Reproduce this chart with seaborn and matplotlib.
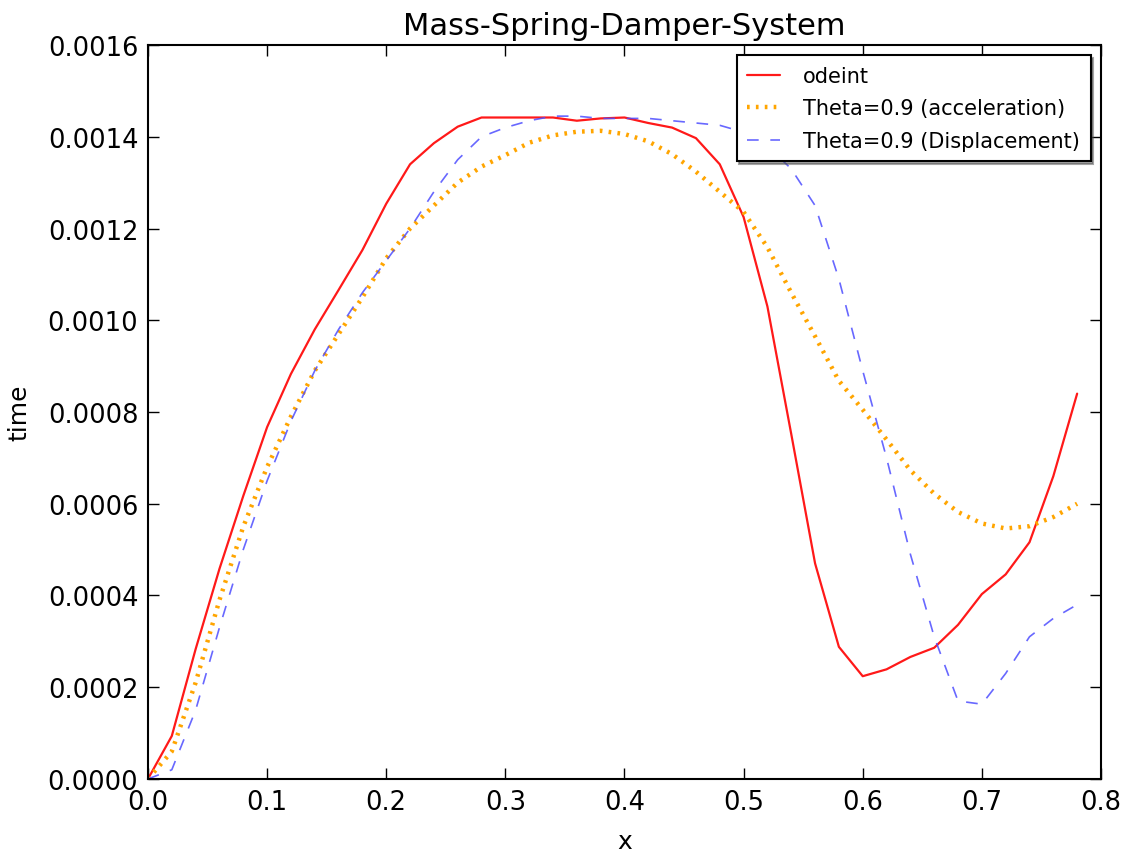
import numpy as np
import pandas as pd
import seaborn as sns
import matplotlib.pyplot as plt

# x grid (step 0.02) and the three series
x = [0.00, 0.02, 0.04, 0.06, 0.08, 0.10, 0.12, 0.14, 0.16, 0.18,
     0.20, 0.22, 0.24, 0.26, 0.28, 0.30, 0.32, 0.34, 0.36, 0.38,
     0.40, 0.42, 0.44, 0.46, 0.48, 0.50, 0.52, 0.54, 0.56, 0.58,
     0.60, 0.62, 0.64, 0.66, 0.68, 0.70, 0.72, 0.74, 0.76, 0.78]

odeint = [0.0, 0.0000937, 0.000283, 0.000458, 0.000617, 0.000767, 0.000883, 0.00098, 0.001066, 0.001153,
          0.001254, 0.00134, 0.001386, 0.001422, 0.001442, 0.001442, 0.001442, 0.001442, 0.001435, 0.00144,
          0.001442, 0.00143, 0.00142, 0.001397, 0.00134, 0.001225, 0.00103, 0.000752, 0.00047, 0.000288,
          0.000224, 0.000239, 0.000266, 0.000286, 0.000336, 0.000403, 0.000446, 0.000516, 0.00066, 0.00084]

theta_acc = [0.0, 0.00006, 0.00021, 0.00039, 0.00055, 0.00068, 0.00079, 0.00089, 0.00097, 0.00105,
             0.001135, 0.0012, 0.00125, 0.0013, 0.001335, 0.00136, 0.001387, 0.001403, 0.001411, 0.001413,
             0.001406, 0.00139, 0.001362, 0.001324, 0.00128, 0.001236, 0.001159, 0.00106, 0.000965, 0.000868,
             0.000805, 0.00074, 0.000673, 0.000622, 0.000582, 0.000557, 0.000546, 0.000551, 0.000571, 0.0006]

theta_disp = [0.0, 0.00002, 0.00015, 0.00033, 0.0005, 0.00065, 0.00078, 0.00089, 0.00098, 0.00106,
              0.00113, 0.0012, 0.00128, 0.00135, 0.0014, 0.00142, 0.001435, 0.001445, 0.001445, 0.00144,
              0.00144, 0.00144, 0.001435, 0.00143, 0.001425, 0.00141, 0.00138, 0.00133, 0.00125, 0.00109,
              0.00089, 0.0007, 0.00049, 0.00031, 0.00017, 0.000163, 0.00023, 0.00031, 0.00035, 0.00038]

x_ticks = [0.0, 0.1, 0.2, 0.3, 0.4, 0.5, 0.6, 0.7, 0.8]
y_ticks = [0.0, 0.0002, 0.0004, 0.0006, 0.0008, 0.0010, 0.0012, 0.0014, 0.0016]

sns.set_style("ticks", {"xtick.direction": "in", "ytick.direction": "in"})
plt.rcParams['font.family'] = ['DejaVu Sans']
plt.rcParams.update({"text.color": "black", "axes.labelcolor": "black",
                     "xtick.color": "black", "ytick.color": "black"})

fig = plt.figure(figsize=(11.27, 8.54), dpi=100)
ax = fig.add_axes([0.1313, 0.0867, 0.9769 - 0.1313, 0.9461 - 0.0867])

sns.lineplot(x=x, y=odeint, ax=ax, color="red", alpha=0.9, linewidth=1.6,
             label="odeint")
sns.lineplot(x=x, y=theta_acc, ax=ax, color="orange", linewidth=3.2,
             linestyle=(0, (0.6, 1.4)), label="Theta=0.9 (acceleration)")
sns.lineplot(x=x, y=theta_disp, ax=ax, color="#4d4dff", alpha=0.85, linewidth=1.2,
             linestyle=(0, (7, 7)), label="Theta=0.9 (Displacement)")

ax.set_xlim(0, 0.8)
ax.set_ylim(0, 0.0016)
ax.set_xticks(x_ticks)
ax.set_xticklabels([f"{v:.1f}" for v in x_ticks])
ax.set_yticks(y_ticks)
ax.set_yticklabels([f"{v:.4f}" for v in y_ticks])
ax.tick_params(axis="both", which="both", top=True, right=True, length=8, width=1,
               labelsize=18.5, pad=7)
for s in ax.spines.values():
    s.set_linewidth(1.5)
    s.set_color("black")

ax.set_title("Mass-Spring-Damper-System", fontsize=22, pad=8)
ax.set_xlabel("x", fontsize=18, labelpad=10)
ax.set_ylabel("time", fontsize=18, labelpad=12)

leg = ax.legend(loc="upper right", fontsize=15, shadow=True, fancybox=False,
                framealpha=1, edgecolor="black", borderaxespad=0.5,
                handlelength=1.6, handletextpad=1.1, labelspacing=0.6,
                borderpad=0.5)
leg.get_frame().set_linewidth(1.5)

fig.savefig("out.png", dpi=100)
